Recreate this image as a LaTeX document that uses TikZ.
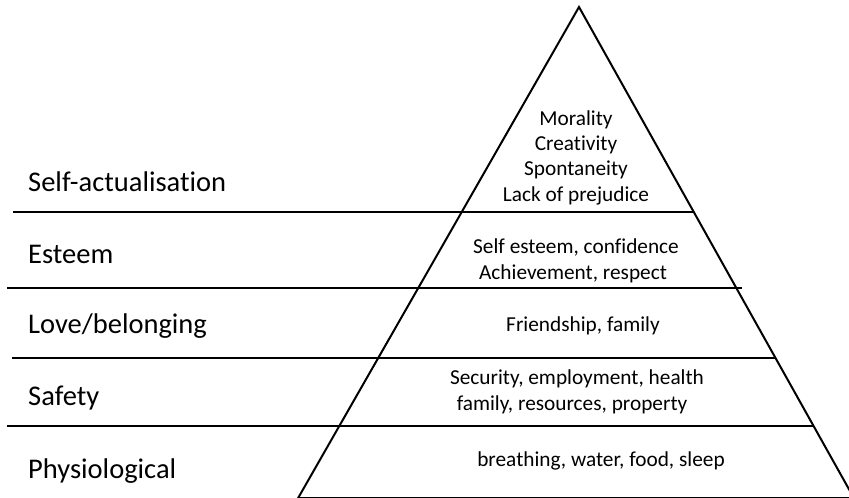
\documentclass[tikz,border=0pt]{standalone}
\usepackage{fontspec}
\setmainfont{Carlito}[Ligatures=NoCommon]
\usetikzlibrary{calc}
\begin{document}
\begin{tikzpicture}[x=1pt,y=-1pt,
  levelline/.style={line width=2pt},
  edge/.style={line width=2pt,line join=miter},
  levellabel/.style={anchor=base west,inner sep=0pt,font=\fontsize{28.5}{34}\selectfont},
  innertext/.style={anchor=base,inner sep=0pt,font=\fontsize{21.3}{26}\selectfont}]
\useasboundingbox (0,0) rectangle (849,498);
\clip (0,0) rectangle (849,498);
\coordinate (apex) at (579,7);
\coordinate (bl) at (298,498.2);
\coordinate (br) at (854,498.2);
\draw[edge] (bl) -- (apex) -- (br) -- cycle;
% level lines
\coordinate (l1s) at (13,212);  \coordinate (l1e) at (694,212);
\coordinate (l2s) at (7,288);   \coordinate (l2e) at (742,288);
\coordinate (l3s) at (12,358);  \coordinate (l3e) at (776,358);
\coordinate (l4s) at (7,426);   \coordinate (l4e) at (814,426);
\draw[levelline] (l1s) -- (l1e);
\draw[levelline] (l2s) -- (l2e);
\draw[levelline] (l3s) -- (l3e);
\draw[levelline] (l4s) -- (l4e);
% left labels
\node[levellabel] (sa) at (28,191) {Self-actualisation};
\node[levellabel] (es) at (28,263) {Esteem};
\node[levellabel] (lb) at (28,333) {Love/belonging};
\node[levellabel] (sf) at (28,405) {Safety};
\node[levellabel] (ph) at (28,478) {Physiological};
% inner texts
\node[innertext] (t1) at (576,125) {Morality};
\node[innertext] (t2) at (576,150) {Creativity};
\node[innertext] (t3) at (576,175) {Spontaneity};
\node[innertext] (t4) at (576,201) {Lack of prejudice};
\node[innertext] (t5) at (576,253) {Self esteem, confidence};
\node[innertext] (t6) at (573,279) {Achievement, respect};
\node[innertext] (t7) at (583,331) {Friendship, family};
\node[innertext] (t8) at (577,384) {Security, employment, health};
\node[innertext] (t9) at (572,410) {family, resources, property};
\node[innertext] (t10) at (601,466) {breathing, water, food, sleep};
\end{tikzpicture}
\end{document}
